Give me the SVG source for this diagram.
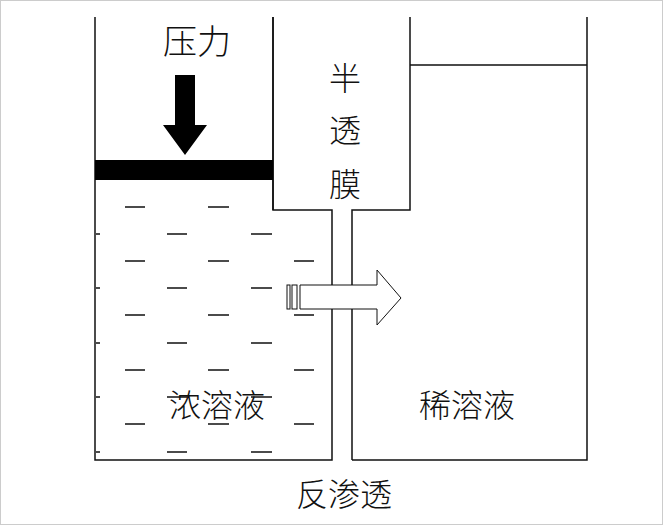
<svg xmlns="http://www.w3.org/2000/svg" width="663" height="525" viewBox="0 0 663 525">
<style>
.l{stroke:#111;stroke-width:1.5;fill:none}
.d{stroke:#111;stroke-width:1.3}
.t{font-family:"Noto Sans CJK SC",sans-serif;fill:#111;font-weight:300}
</style>
<rect x="0.5" y="0.5" width="662" height="524" fill="#fff" stroke="#ccc"/>
<g id="left-tank" class="l">
<path d="M95 17V460H332V210H273V17"/>
</g>
<g id="membrane" class="l">
<path d="M273 17V210M410 17V210H352V460"/>
</g>
<g id="right-tank" class="l">
<path d="M352 460H587V17M410 65H587"/>
</g>
<g id="piston"><rect x="95" y="160" width="178" height="20" fill="#000"/></g>
<g id="pressure-arrow"><path d="M175 75H195V125H207L185 155L163 125H175Z" fill="#000"/></g>
<g id="dashes" class="d">
<path d="M125 207H145M208 207H229
M96 234H100M167 234H187M251 234H272
M125 261H145M208 261H229M294 261H314
M96 288H100M167 288H187M251 288H272
M125 315H145M208 315H229M294 315H314
M96 343H100M167 343H187M251 343H272
M125 370H145M208 370H229M294 370H314
M96 397H100M167 397H187M251 397H272
M125 424H145M208 424H229M294 424H314
M96 452H100M167 452H187M251 452H272"/>
</g>
<g id="flow-arrow" fill="#fff" stroke="#111" stroke-width="1">
<rect x="287" y="285" width="3" height="24"/>
<rect x="292" y="285" width="5" height="24"/>
<path d="M300 285H377V270L401 298L377 325V309H300Z"/>
</g>
<g id="labels" class="t">
<text x="197" y="54" font-size="34" text-anchor="middle">压力</text>
<text x="345" y="90" font-size="32" text-anchor="middle">半</text>
<text x="345" y="142" font-size="32" text-anchor="middle">透</text>
<text x="345" y="196" font-size="32" text-anchor="middle">膜</text>
<text x="217" y="417" font-size="32" text-anchor="middle">浓溶液</text>
<text x="467" y="417" font-size="32" text-anchor="middle">稀溶液</text>
<text x="344" y="506" font-size="32" text-anchor="middle">反渗透</text>
</g>
</svg>
